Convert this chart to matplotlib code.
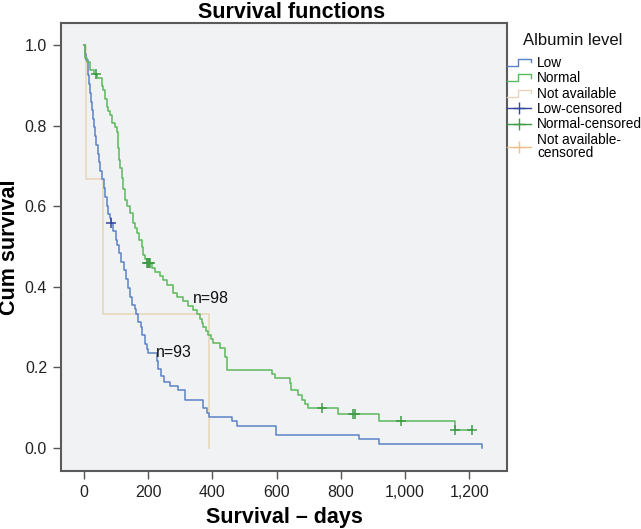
import numpy as np
import matplotlib
matplotlib.use("Agg")
import matplotlib.pyplot as plt
from matplotlib.lines import Line2D
from matplotlib.legend_handler import HandlerBase
from matplotlib.ticker import FuncFormatter

plt.rcParams['font.family'] = ['Liberation Sans', 'DejaVu Sans']

# ---------------- data ----------------
low_t = [0, 3, 6, 12, 15, 18, 22, 25, 29, 31, 34, 38, 42, 46, 51, 56, 61, 66, 70, 74, 80, 85,
         90, 98, 103, 110, 116, 124, 130, 136, 142, 150, 158, 163, 168, 176, 182, 190, 197, 200,
         227, 230, 240, 250, 268, 293, 315, 371, 383, 390, 462, 476, 598, 857, 919, 1240]
low_s = [1.0, 0.978, 0.963, 0.925, 0.903, 0.882, 0.86, 0.84, 0.817, 0.796, 0.774, 0.753, 0.731,
         0.71, 0.688, 0.667, 0.645, 0.624, 0.602, 0.581, 0.570, 0.559, 0.538, 0.516, 0.505, 0.484,
         0.462, 0.441, 0.419, 0.398, 0.376, 0.355, 0.344, 0.333, 0.312, 0.301, 0.28, 0.258, 0.247,
         0.237, 0.215, 0.195, 0.18, 0.165, 0.154, 0.143, 0.12, 0.10, 0.088, 0.077, 0.066, 0.055,
         0.033, 0.022, 0.011, 0.0]
low_cens = [85]

norm_t = [0, 4, 8, 17, 30, 40, 55, 60, 66, 70, 76, 82, 88, 96, 103, 106, 108, 112, 117, 122, 128,
          135, 143, 153, 158, 164, 172, 180, 185, 190, 195, 212, 222, 237, 247, 258, 277, 290, 309,
          325, 339, 352, 361, 366, 371, 380, 387, 395, 402, 424, 439, 445, 585, 595, 642, 646, 667,
          679, 690, 698, 791, 919, 1156, 1209]
norm_s = [1.0, 0.969, 0.959, 0.939, 0.929, 0.918, 0.898, 0.888, 0.867, 0.847, 0.837, 0.826, 0.806,
          0.796, 0.785, 0.744, 0.715, 0.694, 0.67, 0.642, 0.615, 0.60, 0.583, 0.558, 0.546, 0.533,
          0.516, 0.50, 0.48, 0.468, 0.459, 0.448, 0.438, 0.428, 0.418, 0.405, 0.385, 0.375, 0.365,
          0.352, 0.342, 0.332, 0.32, 0.31, 0.30, 0.29, 0.28, 0.27, 0.26, 0.248, 0.226, 0.194, 0.184,
          0.173, 0.161, 0.143, 0.132, 0.12, 0.11, 0.099, 0.084, 0.067, 0.045, 0.045]
norm_cens = [37, 196, 199, 203, 206, 741, 838, 845, 988, 1156, 1209]

na_t = [0, 6, 60, 390]
na_s = [1.0, 0.667, 0.333, 0.0]
na_cens = []

x_ticks = [0, 200, 400, 600, 800, 1000, 1200]
y_ticks = [0.0, 0.2, 0.4, 0.6, 0.8, 1.0]
legend_title = "Albumin level"
labels = ["Low", "Normal", "Not available", "Low-censored", "Normal-censored",
          "Not available-\ncensored"]
annotations = [("n=98", 340, 0.372), ("n=93", 224, 0.238)]

# ---------------- style ----------------
c_low, c_low_c = "#5B82C6", "#34479E"
c_norm, c_norm_c = "#5CB85C", "#3E9B45"
c_na, c_na_c = "#E8D5B8", "#F2C08E"


def surv_at(ts, ss, t):
    i = np.searchsorted(np.asarray(ts), t, side="right") - 1
    return ss[i]


fig = plt.figure(figsize=(6.41, 5.29), dpi=100)
ax = fig.add_axes([61 / 641, 1 - 471 / 529, 446 / 641, 448 / 529])
ax.set_facecolor("#F1F2F4")

lw = 1.1
ax.step(na_t, na_s, where="post", color=c_na, lw=lw, zorder=2)
ax.step(low_t, low_s, where="post", color=c_low, lw=lw, zorder=3)
ax.step(norm_t, norm_s, where="post", color=c_norm, lw=lw, zorder=3)

ax.plot(low_cens, [surv_at(low_t, low_s, t) for t in low_cens], ls="none", marker="+",
        ms=6.5, mew=1.1, color=c_low_c, zorder=4)
ax.plot(norm_cens, [surv_at(norm_t, norm_s, t) for t in norm_cens], ls="none", marker="+",
        ms=6.5, mew=1.1, color=c_norm_c, zorder=4)

for txt, tx, ty in annotations:
    ax.text(tx, ty, txt, fontsize=11.5, ha="left", va="center", color="#111111", zorder=5)

ax.set_xlim(-72, 1318)
ax.set_ylim(-0.057, 1.055)
ax.set_xticks(x_ticks)
ax.set_yticks(y_ticks)
ax.xaxis.set_major_formatter(FuncFormatter(lambda v, p: f"{int(v):,}"))
ax.yaxis.set_major_formatter(FuncFormatter(lambda v, p: f"{v:.1f}"))
ax.tick_params(axis="both", direction="out", length=6, width=1, color="#555555",
               labelsize=11.5, labelcolor="#222222", pad=4)
for sp in ax.spines.values():
    sp.set_color("#5A5A5A")
    sp.set_linewidth(1.5)

ax.set_title("Survival functions", fontsize=15.5, fontweight="bold", pad=3, x=0.518)
ax.set_xlabel("Survival \u2013 days", fontsize=15.5, fontweight="bold", labelpad=5)
ax.set_ylabel("Cum survival", fontsize=15.5, fontweight="bold")
ax.yaxis.set_label_coords(-0.092, 0.5)


class StepHandler(HandlerBase):
    def create_artists(self, legend, orig_handle, xdescent, ydescent, width, height,
                       fontsize, trans):
        xs = np.array([0, 0.45, 0.45, 1.0, 1.0]) * width - xdescent
        ys = np.array([0.1, 0.1, 0.85, 0.85, 0.5]) * height - ydescent
        ln = Line2D(xs, ys, color=orig_handle.get_color(), lw=1.0)
        ln.set_transform(trans)
        return [ln]


class CensHandler(HandlerBase):
    def create_artists(self, legend, orig_handle, xdescent, ydescent, width, height,
                       fontsize, trans):
        y = 0.5 * height - ydescent
        ln = Line2D([-xdescent, width - xdescent], [y, y], color=orig_handle.get_color(), lw=1.0)
        mk = Line2D([0.5 * width - xdescent], [y], ls="none", marker="+", ms=9, mew=1.0,
                    color=orig_handle.get_color())
        ln.set_transform(trans)
        mk.set_transform(trans)
        return [ln, mk]


class StepProxy(Line2D):
    pass


class CensProxy(Line2D):
    pass


handles = [StepProxy([], [], color=c_low), StepProxy([], [], color=c_norm),
           StepProxy([], [], color=c_na), CensProxy([], [], color=c_low_c),
           CensProxy([], [], color=c_norm_c), CensProxy([], [], color=c_na_c)]
fig.text(573 / 641, 1 - 40 / 529, legend_title, fontsize=12, ha="center", va="center",
         color="#111111")
leg = fig.legend(handles, labels, loc="upper left", bbox_to_anchor=(507 / 641, 1 - 56 / 529),
                 frameon=False, fontsize=9.8,
                 handlelength=1.75, handletextpad=0.45, labelspacing=0.1, borderpad=0,
                 borderaxespad=0,
                 handler_map={StepProxy: StepHandler(), CensProxy: CensHandler()})
for t in leg.get_texts():
    t.set_linespacing(0.95)

fig.savefig("out.png", dpi=100)
